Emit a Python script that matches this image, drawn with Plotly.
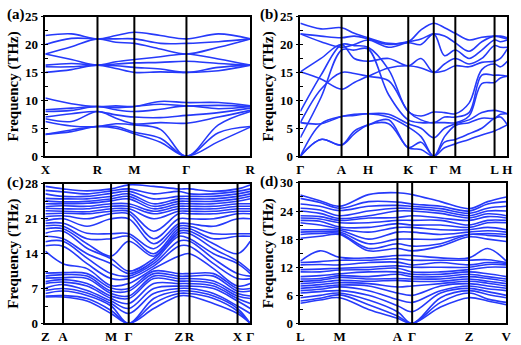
import plotly.graph_objects as go

# ---- panel (a): X-R-M-G-R ----
k_a = [0, 0.707, 1.414, 1.914, 2.414, 3.121, 3.828, 4.694, 5.560]
lab_a_pos = [0, 1.414, 2.414, 3.828, 5.560]
lab_a = ["X", "R", "M", "Γ", "R"]
freq_a = [
    [3.9, 3.9, 6.2, 6.7, 7.0, 8.0, 8.3, 10.4, 15.0, 16.0, 16.3, 18.3, 18.3, 20.0, 21.6],
    [4.4, 4.7, 5.4, 6.2, 7.6, 8.2, 8.6, 9.4, 15.5, 16.0, 16.6, 17.3, 19.6, 21.1, 21.9],
    [5.3, 5.3, 5.3, 8.0, 8.0, 8.9, 8.9, 8.9, 16.3, 16.3, 16.3, 16.3, 21.0, 21.0, 21.0],
    [5.0, 5.3, 5.8, 6.8, 7.4, 8.3, 8.7, 9.0, 15.7, 16.2, 16.5, 16.9, 20.4, 21.0, 21.6],
    [4.0, 4.3, 5.6, 5.8, 7.0, 8.0, 8.9, 8.9, 15.0, 15.9, 16.7, 17.3, 20.2, 21.0, 22.2],
    [2.5, 3.2, 4.8, 6.0, 6.9, 8.4, 9.3, 9.8, 15.1, 15.6, 16.8, 17.8, 19.2, 20.2, 21.6],
    [0.0, 0.0, 0.0, 5.9, 7.3, 9.0, 9.0, 9.6, 15.0, 15.0, 17.0, 18.3, 18.3, 20.2, 21.0],
    [2.6, 4.2, 5.6, 7.0, 7.8, 8.5, 9.1, 9.6, 15.3, 15.9, 16.6, 17.4, 19.5, 20.5, 21.9],
    [5.2, 5.3, 8.0, 8.2, 8.6, 8.9, 8.9, 9.0, 16.3, 16.3, 16.3, 16.3, 21.0, 21.0, 21.0],
]

# ---- panel (b): G-A-H-K-G-M-L-H ----
k_b = [0, 21, 42, 55, 69, 90, 110, 123, 136, 147, 158, 172, 185, 198, 204, 211]
lab_b_pos = [0, 42, 69, 110, 136, 158, 198, 211]
lab_b = ["Γ", "A", "H", "K", "Γ", "M", "L", "H"]
freq_b = [
    [0.0, 0.0, 0.0, 6.0, 3.3, 6.0, 8.0, 15.1, 15.1, 21.9, 21.9, 23.8],
    [3.0, 3.0, 5.8, 5.8, 10.5, 12.0, 14.5, 13.8, 17.5, 20.5, 21.5, 22.8],
    [2.0, 2.0, 7.1, 7.1, 19.0, 15.0, 20.0, 12.0, 20.0, 19.5, 21.2, 23.0],
    [4.0, 4.5, 7.3, 7.5, 19.0, 14.8, 19.8, 13.2, 17.5, 20.0, 21.5, 22.0],
    [5.6, 5.6, 7.6, 7.6, 19.2, 14.3, 19.5, 14.3, 17.0, 20.8, 21.0, 21.2],
    [5.8, 6.5, 7.0, 7.5, 11.0, 13.5, 15.5, 15.8, 17.5, 19.5, 20.0, 20.2],
    [1.5, 1.5, 5.2, 5.8, 6.5, 8.0, 8.0, 16.2, 16.2, 20.3, 20.5, 20.5],
    [1.2, 2.5, 3.5, 5.0, 6.0, 6.5, 7.2, 15.8, 17.5, 20.0, 21.0, 22.6],
    [0.0, 0.0, 0.0, 3.3, 6.0, 6.0, 7.9, 15.0, 15.0, 21.9, 21.9, 23.8],
    [1.5, 2.5, 3.5, 5.0, 6.0, 7.0, 7.8, 15.3, 16.5, 18.0, 21.5, 23.0],
    [2.2, 3.0, 5.5, 5.8, 6.0, 7.0, 7.6, 16.2, 17.5, 19.0, 20.3, 22.0],
    [3.0, 4.0, 6.0, 6.5, 7.2, 7.8, 9.5, 16.0, 16.5, 17.5, 18.8, 20.8],
    [3.8, 5.0, 6.8, 7.8, 13.0, 14.5, 15.5, 16.8, 17.5, 19.0, 20.5, 21.3],
    [4.5, 6.8, 6.8, 8.2, 13.2, 14.5, 16.5, 17.0, 19.8, 20.8, 21.5, 21.5],
    [5.0, 7.0, 7.5, 8.0, 14.0, 14.5, 16.0, 17.5, 19.5, 20.5, 21.3, 21.5],
    [5.6, 5.6, 7.6, 7.6, 14.3, 14.3, 17.0, 19.2, 19.5, 20.8, 21.0, 21.2],
]

# ---- panel (c): Z-A-M-G-Z-R-X-G ----
k_c = [0, 18, 42.5, 67, 85, 110.5, 136, 147, 171.5, 196, 209]
lab_c_pos = [0, 18, 67, 85, 136, 147, 196, 209]
lab_c = ["Z", "A", "M", "Γ", "Z", "R", "X", "Γ"]
freq_c = [
    [5.3, 5.5, 6.0, 6.6, 7.1, 8.0, 8.4, 9.1, 9.5, 10.1, 14.5, 15.6, 16.4, 17.5, 18.1, 19.0, 19.6, 20.1, 20.6, 21.4, 22.0, 22.6, 23.1, 23.4, 24.0, 24.6, 25.1, 26.0, 26.7, 27.5],
    [5.3, 5.6, 6.5, 7.0, 7.8, 8.3, 8.8, 9.2, 9.8, 10.2, 12.0, 15.5, 16.5, 17.0, 18.5, 19.0, 19.5, 20.1, 21.0, 21.6, 22.1, 22.5, 23.0, 23.6, 24.0, 24.4, 25.0, 25.5, 26.4, 27.0],
    [4.5, 5.0, 5.6, 6.1, 6.6, 7.5, 8.0, 9.0, 9.5, 10.0, 11.0, 12.0, 13.1, 14.0, 15.1, 16.0, 17.0, 18.1, 19.5, 21.0, 22.0, 22.4, 23.0, 23.5, 24.1, 24.5, 25.0, 25.5, 26.0, 26.6],
    [2.0, 2.6, 3.5, 4.0, 4.5, 5.0, 5.5, 6.0, 6.5, 7.1, 7.6, 9.0, 10.0, 12.0, 13.0, 13.5, 17.0, 18.0, 21.0, 22.0, 22.5, 23.0, 23.5, 24.0, 24.6, 25.0, 25.5, 26.1, 26.6, 27.0],
    [0.0, 0.0, 0.0, 2.0, 3.0, 4.0, 5.0, 5.5, 6.5, 7.0, 8.0, 9.0, 9.5, 10.0, 10.5, 16.5, 17.5, 18.0, 21.0, 22.0, 22.5, 23.0, 23.5, 24.0, 25.0, 25.5, 26.0, 26.5, 27.0, 27.8],
    [3.0, 4.0, 5.0, 6.0, 7.0, 8.0, 9.0, 9.5, 10.0, 10.5, 11.0, 11.5, 12.0, 12.5, 13.0, 13.5, 14.0, 15.0, 16.0, 17.0, 18.5, 21.0, 22.0, 22.5, 23.0, 23.5, 24.0, 25.0, 26.0, 27.5],
    [5.5, 6.0, 6.5, 7.0, 7.5, 8.0, 8.5, 9.0, 9.5, 10.0, 13.5, 15.5, 16.5, 17.5, 18.0, 18.5, 19.0, 19.5, 20.0, 21.0, 22.0, 22.5, 23.0, 23.5, 24.0, 24.5, 25.0, 25.5, 26.5, 27.0],
    [5.5, 6.0, 6.5, 7.0, 7.5, 8.0, 8.5, 9.0, 9.5, 10.0, 14.0, 15.5, 16.5, 17.0, 18.0, 18.5, 19.0, 19.5, 20.0, 21.0, 22.0, 22.5, 23.0, 23.5, 24.0, 24.5, 25.0, 25.5, 26.0, 27.0],
    [4.0, 5.0, 5.5, 6.0, 7.0, 7.5, 8.0, 8.5, 9.5, 10.0, 11.0, 12.0, 13.0, 14.0, 15.0, 16.0, 17.0, 18.0, 19.5, 21.0, 22.0, 22.5, 23.0, 23.5, 24.0, 24.5, 25.0, 25.5, 26.0, 26.5],
    [2.0, 2.5, 3.0, 3.5, 4.5, 5.0, 5.5, 6.0, 6.5, 7.0, 7.5, 9.0, 10.0, 12.0, 12.5, 14.0, 17.5, 18.0, 21.0, 22.0, 22.5, 23.0, 23.5, 24.0, 24.5, 25.0, 25.5, 26.0, 26.5, 27.0],
    [0.0, 0.0, 0.0, 2.0, 3.0, 4.0, 5.0, 5.5, 6.5, 7.0, 8.0, 9.0, 9.5, 10.0, 10.5, 16.5, 17.5, 18.0, 21.0, 22.0, 22.5, 23.0, 23.5, 24.0, 25.0, 25.5, 26.0, 26.5, 27.0, 27.8],
]

# ---- panel (d): L-M-A-G-Z-V ----
k_d = [0, 20, 40, 69.5, 99, 114, 143, 172, 191, 210]
lab_d_pos = [0, 40, 99, 114, 172, 210]
lab_d = ["L", "M", "A", "Γ", "Z", "V"]
freq_d = [
    [4.3, 4.8, 5.5, 6.5, 7.0, 7.5, 8.0, 8.5, 9.0, 9.5, 10.0, 11.0, 11.5, 12.5, 13.0, 13.3, 18.2, 19.0, 19.5, 20.0, 21.5, 22.0, 22.5, 23.0, 24.0, 24.6, 25.5, 26.7, 27.4],
    [5.0, 5.4, 6.0, 6.8, 7.3, 7.8, 8.3, 8.8, 9.2, 9.6, 10.2, 11.0, 11.6, 12.6, 13.2, 15.5, 18.6, 19.2, 19.6, 20.0, 21.0, 21.8, 22.3, 22.8, 23.5, 24.2, 25.0, 25.8, 26.2],
    [5.5, 6.1, 6.5, 7.0, 7.8, 8.2, 8.7, 9.2, 9.8, 10.2, 10.6, 11.4, 11.8, 12.5, 13.5, 14.1, 19.0, 19.2, 19.5, 19.9, 20.2, 20.6, 21.5, 22.0, 22.4, 23.0, 24.1, 24.6, 25.0],
    [3.0, 4.0, 5.0, 6.0, 7.0, 8.0, 8.5, 9.0, 9.5, 10.0, 11.0, 11.5, 12.0, 13.0, 13.5, 14.0, 15.5, 16.0, 17.0, 18.0, 19.5, 20.5, 21.5, 22.5, 23.0, 24.0, 25.0, 26.0, 27.5],
    [1.1, 1.6, 2.5, 3.8, 5.1, 6.5, 7.8, 9.2, 9.6, 10.5, 11.0, 11.8, 12.3, 13.1, 13.8, 14.5, 16.0, 17.0, 18.0, 19.5, 20.5, 21.3, 22.0, 22.6, 24.0, 24.6, 25.2, 25.9, 27.9],
    [0.0, 0.0, 0.0, 2.5, 4.5, 6.0, 8.0, 9.0, 9.5, 10.0, 10.5, 11.0, 12.0, 12.5, 13.5, 14.5, 15.5, 16.5, 18.0, 19.5, 20.5, 21.0, 22.0, 23.0, 24.0, 24.5, 25.0, 25.5, 27.5],
    [3.5, 4.5, 5.5, 6.5, 7.0, 8.0, 8.5, 9.0, 9.5, 10.0, 10.5, 11.0, 12.0, 13.0, 13.5, 14.0, 16.5, 17.0, 18.0, 19.0, 20.0, 21.0, 22.0, 22.5, 23.5, 24.0, 24.5, 25.0, 26.0],
    [5.5, 6.5, 7.0, 7.5, 8.0, 8.5, 9.0, 9.5, 10.0, 10.5, 11.0, 11.5, 12.0, 12.5, 13.5, 14.0, 18.5, 19.0, 19.0, 19.5, 20.0, 20.5, 21.0, 22.0, 22.5, 23.0, 23.5, 24.0, 24.5],
    [4.8, 5.2, 6.2, 6.8, 7.4, 8.0, 8.6, 9.0, 9.6, 10.0, 10.6, 12.0, 12.6, 13.0, 13.6, 16.0, 18.0, 18.8, 19.2, 19.8, 20.5, 21.5, 22.0, 22.8, 23.4, 24.0, 24.6, 25.5, 26.0],
    [4.0, 4.5, 5.5, 6.0, 7.0, 7.5, 8.0, 8.5, 9.0, 9.5, 10.0, 12.0, 12.5, 12.8, 13.0, 13.3, 17.5, 18.5, 19.0, 19.5, 20.0, 21.5, 22.0, 22.5, 23.0, 24.0, 25.0, 26.0, 27.0],
]

BLUE = "rgb(38,58,250)"
FONT = "Liberation Serif"

fig = go.Figure()

panels = [
    ("x", "y", k_a, freq_a, lab_a_pos, lab_a, 25, 5, "(a)"),
    ("x2", "y2", k_b, freq_b, lab_b_pos, lab_b, 25, 5, "(b)"),
    ("x3", "y3", k_c, freq_c, lab_c_pos, lab_c, 28, 7, "(c)"),
    ("x4", "y4", k_d, freq_d, lab_d_pos, lab_d, 30, 6, "(d)"),
]
domains = [
    ([0.079, 0.480], [0.548, 0.971]),
    ([0.578, 0.983], [0.548, 0.971]),
    ([0.079, 0.480], [0.041, 0.464]),
    ([0.578, 0.981], [0.041, 0.467]),
]

for i, (xa, ya, k, freq, lpos, labs, ymax, dt, tag) in enumerate(panels):
    nb = len(freq[0])
    for b in range(nb):
        fig.add_trace(go.Scatter(
            x=k, y=[row[b] for row in freq], xaxis=xa, yaxis=ya,
            mode="lines", line=dict(color=BLUE, width=1.6, shape="spline", smoothing=1.0),
            showlegend=False, hoverinfo="skip"))
    # vertical lines at inner high-symmetry points
    for p in lpos[1:-1]:
        fig.add_shape(type="line", xref=xa, yref=ya + " domain", x0=p, x1=p, y0=0, y1=1,
                      line=dict(color="black", width=2))
    sfx = "" if i == 0 else str(i + 1)
    xd, yd = domains[i]
    fig.layout["xaxis" + sfx] = dict(
        domain=xd, anchor=ya, range=[k[0], k[-1]], tickvals=lpos, ticktext=labs,
        tickangle=0, showline=True, mirror=True, linecolor="black", linewidth=1.5, ticks="",
        showgrid=False, zeroline=False,
        tickfont=dict(family=FONT, size=13, color="black", weight="bold"))
    fig.layout["yaxis" + sfx] = dict(
        domain=yd, anchor=xa, range=[0, ymax], dtick=dt, tick0=0,
        showline=True, mirror=True, linecolor="black", linewidth=1.5,
        ticks="outside", ticklen=3, tickwidth=1, tickcolor="black",
        minor=dict(ticks="inside", ticklen=3, dtick=dt / 2, tickcolor="black"),
        showgrid=False, zeroline=False,
        tickfont=dict(family=FONT, size=13, color="black", weight="bold"),
        title=dict(text="<b>Frequency (THz)</b>", standoff=3,
                   font=dict(family=FONT, size=15, color="black")))
    fig.add_annotation(text="<b>" + tag + "</b>", xref="paper", yref="paper",
                       x=max(xd[0] - 0.083, 0.0), y=yd[1] + 0.005, xanchor="left", yanchor="middle",
                       showarrow=False, font=dict(family=FONT, size=15, color="black"))

fig.update_layout(width=521, height=345, margin=dict(l=0, r=0, t=0, b=0),
                  plot_bgcolor="white", paper_bgcolor="white")

fig.write_html("out.html", config={"displayModeBar": False},
               post_script="document.body.style.margin='0';")
